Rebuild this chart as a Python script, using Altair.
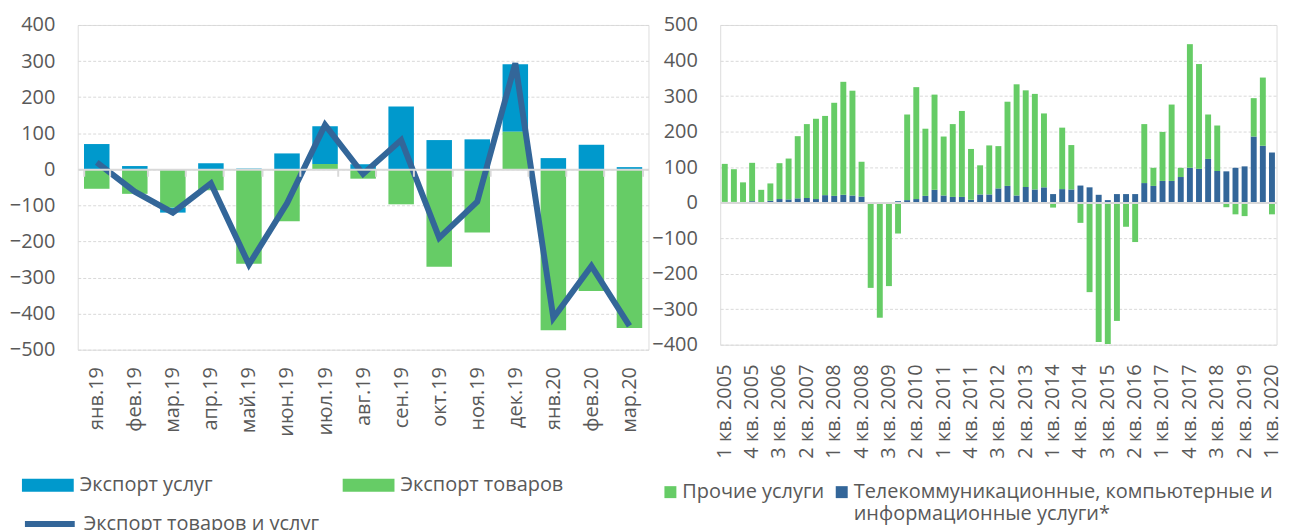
import altair as alt
import pandas as pd

# ---------------- data: left chart ----------------
months = ["янв.19", "фев.19", "мар.19", "апр.19", "май.19", "июн.19", "июл.19",
          "авг.19", "сен.19", "окт.19", "ноя.19", "дек.19", "янв.20", "фев.20", "мар.20"]
services = [70, 9, -14, 17, 2, 44, 104, 14, 174, 81, 83, 187, 31, 68, 6]
goods = [-54, -68, -106, -58, -262, -144, 15, -26, -97, -270, -175, 104, -446, -337, -440]
total = [19, -62, -120, -39, -264, -94, 123, -13, 81, -190, -90, 294, -412, -268, -434]

S_SVC = "Экспорт услуг"
S_GDS = "Экспорт товаров"
S_TOT = "Экспорт товаров и услуг"

# ---------------- data: right chart ----------------
quarters = [f"{q} кв. {y}" for y in range(2005, 2021) for q in range(1, 5)][:61]
tele = [2, 2, 1, 4, 1, 5, 10, 9, 12, 13, 10, 21, 19, 22, 20, 17,
        0, 0, 0,
        4, 7, 10, 19, 36, 20, 16, 16, 8, 23, 23, 40, 47, 20, 44, 37, 43, 24, 38, 37,
        48, 43, 22, 7, 24, 24, 24, 55, 47, 61, 61, 72, 98, 95, 123, 89, 88, 98, 102, 186, 160, 141]
other = [107, 92, 56, 108, 35, 49, 101, 115, 175, 208, 226, 223, 262, 318, 295, 98,
         -240, -324, -235,
         -87, 241, 315, 189, 268, 166, 205, 242, 143, 82, 138, 119, 237, 313, 272, 269, 208, -14, 173, 125,
         -57, -252, -392, -398, -333, -68, -111, 166, 51, 138, 215, 26, 348, 295, 125, 128, -13, -33, -38, 108, 192, -33]

S_OTH = "Прочие услуги"
S_TEL = "Телекоммуникационные, компьютерные и|информационные услуги*"

FONT = "Open Sans"
GRAY = "#595959"
GRID = "#d9d9d9"
C_SVC = "#0099cc"
C_GDS = "#66cc66"
C_DARK = "#336699"

# ---------------- left chart ----------------
left_df = pd.DataFrame({
    "month": months * 2,
    "series": [S_SVC] * len(months) + [S_GDS] * len(months),
    "value": services + goods,
    "ord": [1] * len(months) + [0] * len(months),
})
line_df = pd.DataFrame({"month": months, "value": total, "series": [S_TOT] * len(months)})

LW, LH = 573, 326
l_zero = LH * 4 / 9

x_left = alt.X(
    "month:N", sort=months, title=None,
    scale=alt.Scale(paddingInner=0.33, paddingOuter=0.165),
    axis=alt.Axis(orient="bottom", offset=-(LH - l_zero), domainColor=GRID, domainWidth=2,
                  ticks=True, tickBand="extent", tickColor=GRID, tickWidth=2, tickSize=7,
                  labelAngle=-90, labelAlign="right", labelBaseline="middle", labelPadding=191,
                  labelFontSize=20, labelColor=GRAY, labelFont=FONT, grid=False, zindex=1),
)
y_left = alt.Y(
    "value:Q", title=None,
    scale=alt.Scale(domain=[-500, 400], nice=False, zero=False),
    axis=alt.Axis(values=list(range(-500, 401, 100)), domain=False, ticks=False,
                  gridColor=GRID, gridDash=[3, 2], gridWidth=1,
                  labelFontSize=20, labelColor=GRAY, labelFont=FONT, labelPadding=23),
)

bars_left = alt.Chart(left_df).mark_bar().encode(
    x=x_left,
    y=y_left,
    fill=alt.Fill("series:N", scale=alt.Scale(domain=[S_SVC, S_GDS], range=[C_SVC, C_GDS]),
                  legend=alt.Legend(title=None, orient="none", legendX=-56, legendY=436,
                                    direction="horizontal", columns=2, columnPadding=130,
                                    symbolType="M-1,-0.25H1V0.25H-1Z", symbolSize=2704,
                                    symbolStrokeWidth=0, labelOffset=6, labelLimit=600,
                                    labelFontSize=20, labelColor=GRAY, labelFont=FONT)),
    order=alt.Order("ord:Q"),
)
line_left = alt.Chart(line_df).mark_line(strokeWidth=6).encode(
    x=x_left,
    y=y_left,
    stroke=alt.Stroke("series:N", scale=alt.Scale(domain=[S_TOT], range=[C_DARK]),
                      legend=alt.Legend(title=None, orient="none", legendX=-56, legendY=473,
                                        symbolType="stroke", symbolSize=2500, symbolStrokeWidth=6,
                                        labelOffset=6, labelLimit=600,
                                        labelFontSize=20, labelColor=GRAY, labelFont=FONT)),
)
left = alt.layer(bars_left, line_left).properties(width=LW, height=LH)

# ---------------- right chart ----------------
right_df = pd.DataFrame({
    "q": quarters * 2,
    "series": [S_TEL] * len(quarters) + [S_OTH] * len(quarters),
    "value": tele + other,
    "ord": [0] * len(quarters) + [1] * len(quarters),
})

RW, RH = 558.5, 321
r_zero = RH * 5 / 9

right = alt.Chart(right_df).mark_bar().encode(
    x=alt.X("q:N", sort=quarters, title=None,
            scale=alt.Scale(paddingInner=0.35, paddingOuter=0.175),
            axis=alt.Axis(orient="bottom", offset=-(RH - r_zero), values=quarters[::3],
                          domainColor=GRID, domainWidth=2, ticks=False,
                          labelAngle=-90, labelAlign="right", labelBaseline="middle", labelPadding=162,
                          labelFontSize=20, labelColor=GRAY, labelFont=FONT, grid=False, zindex=1)),
    y=alt.Y("value:Q", title=None,
            scale=alt.Scale(domain=[-400, 500], nice=False, zero=False),
            axis=alt.Axis(values=list(range(-400, 501, 100)), domain=False, ticks=False,
                          gridColor=GRID, gridDash=[3, 2], gridWidth=1,
                          labelFontSize=20, labelColor=GRAY, labelFont=FONT, labelPadding=23)),
    fill=alt.Fill("series:N", scale=alt.Scale(domain=[S_OTH, S_TEL], range=[C_GDS, C_DARK]),
                  legend=alt.Legend(title=None, orient="none", legendX=-60, legendY=459,
                                    direction="horizontal", columns=2, columnPadding=7,
                                    symbolType="square", symbolSize=144, symbolStrokeWidth=0,
                                    labelOffset=2, labelLimit=700,
                                    labelExpr="indexof(datum.label, '|') >= 0 ? split(datum.label, '|') : [datum.label, ' ']",
                                    labelFontSize=20, labelColor=GRAY, labelFont=FONT)),
    order=alt.Order("ord:Q"),
).properties(width=RW, height=RH)

chart = alt.hconcat(left, right, spacing=72, bounds="flush").resolve_scale(
    fill="independent", stroke="independent", x="independent", y="independent"
).resolve_legend(fill="independent", stroke="independent").properties(
    padding={"left": 0, "top": 5, "right": 0, "bottom": 0}
).configure_view(stroke=None).configure(font=FONT)

chart.save("out.html", embed_options={"renderer": "svg", "actions": False})
